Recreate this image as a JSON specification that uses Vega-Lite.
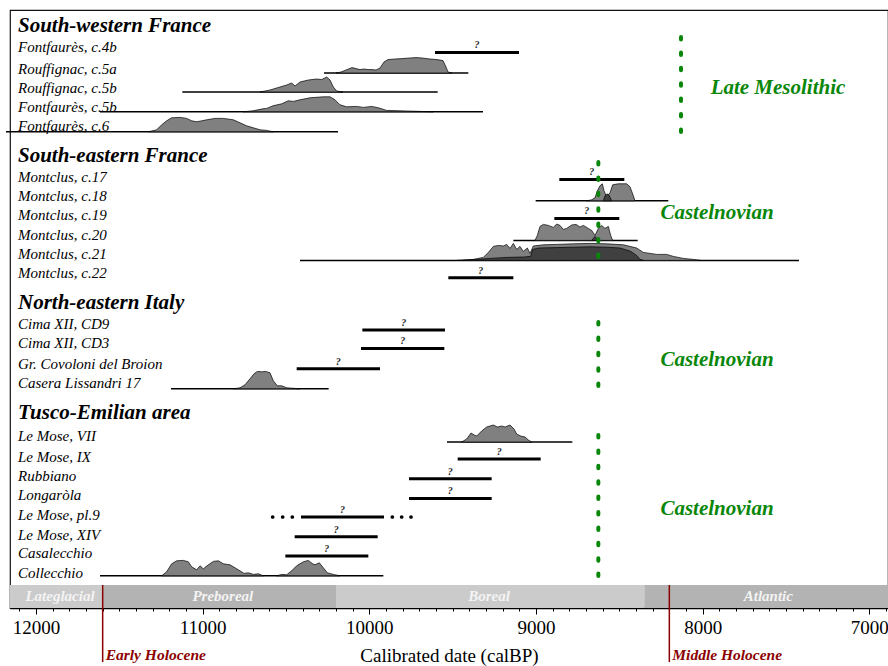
{
"$schema":"https://vega.github.io/schema/vega-lite/v6.json",
"width":878,"height":598,
"autosize":{"type":"none"},
"padding":{"left":10,"top":10,"right":0,"bottom":58},
"background":"white",
"config":{"view":{"stroke":"#111","strokeWidth":1.2},"font":"Liberation Serif"},
"resolve":{"axis":{"x":"independent"}},
"datasets":{
"periods":[{"p":"Lateglacial","x1":12156,"x2":11600,"mid":11856},{"p":"Preboreal","x1":11600,"x2":10200,"mid":10879},{"p":"Boreal","x1":10200,"x2":8350,"mid":9282},{"p":"Atlantic","x1":8350,"x2":6888,"mid":7606}],
"holo":[{"t":"Early Holocene","yr":11600},{"t":"Middle Holocene","yr":8200}],
"intervals":[
{"id":"c4b","row":2.12,"x1":9606,"x2":9102,"mid":9354,"kind":"thick"},
{"id":"c5a","row":3.15,"x1":10272,"x2":9406,"kind":"thin"},
{"id":"r5b","row":4.10,"x1":11122,"x2":9590,"kind":"thin"},
{"id":"f5b","row":5.09,"x1":11616,"x2":9318,"kind":"thin"},
{"id":"c6","row":6.09,"x1":12180,"x2":10188,"kind":"thin"},
{"id":"c17","row":8.47,"x1":8860,"x2":8470,"mid":8665,"kind":"thick"},
{"id":"c18","row":9.54,"x1":9002,"x2":8206,"kind":"thin"},
{"id":"c19","row":10.42,"x1":8890,"x2":8500,"mid":8695,"kind":"thick"},
{"id":"c20","row":11.52,"x1":9136,"x2":8390,"kind":"thin"},
{"id":"c21","row":12.52,"x1":10416,"x2":7422,"kind":"thin"},
{"id":"c22","row":13.39,"x1":9526,"x2":9136,"mid":9331,"kind":"thick"},
{"id":"cd9","row":16.0,"x1":10042,"x2":9546,"mid":9794,"kind":"thick"},
{"id":"cd3","row":16.92,"x1":10050,"x2":9550,"mid":9800,"kind":"thick"},
{"id":"cov","row":17.94,"x1":10436,"x2":9936,"mid":10186,"kind":"thick"},
{"id":"cas","row":18.94,"x1":11190,"x2":10244,"kind":"thin"},
{"id":"vii","row":21.6,"x1":9534,"x2":8782,"kind":"thin"},
{"id":"ix","row":22.45,"x1":9470,"x2":8972,"mid":9221,"kind":"thick"},
{"id":"rub","row":23.44,"x1":9762,"x2":9266,"mid":9514,"kind":"thick"},
{"id":"lon","row":24.42,"x1":9762,"x2":9266,"mid":9514,"kind":"thick"},
{"id":"pl9","row":25.35,"x1":10410,"x2":9912,"mid":10161,"kind":"thick"},
{"id":"xiv","row":26.34,"x1":10448,"x2":9950,"mid":10199,"kind":"thick"},
{"id":"casal","row":27.3,"x1":10504,"x2":10006,"mid":10255,"kind":"thick"},
{"id":"coll","row":28.29,"x1":11616,"x2":9916,"kind":"thin"}
],
"dens":[
{"id":"c5a","s":"l","b":3.15,"yr":10200,"t":3.15},{"id":"c5a","s":"l","b":3.15,"yr":10170,"t":3.10},{"id":"c5a","s":"l","b":3.15,"yr":10140,"t":3.0},{"id":"c5a","s":"l","b":3.15,"yr":10104,"t":2.88},{"id":"c5a","s":"l","b":3.15,"yr":10080,"t":2.93},{"id":"c5a","s":"l","b":3.15,"yr":10056,"t":2.98},{"id":"c5a","s":"l","b":3.15,"yr":10032,"t":2.95},{"id":"c5a","s":"l","b":3.15,"yr":10008,"t":2.98},{"id":"c5a","s":"l","b":3.15,"yr":9984,"t":2.98},{"id":"c5a","s":"l","b":3.15,"yr":9960,"t":3.0},{"id":"c5a","s":"l","b":3.15,"yr":9936,"t":2.9},{"id":"c5a","s":"l","b":3.15,"yr":9912,"t":2.6},{"id":"c5a","s":"l","b":3.15,"yr":9888,"t":2.48},{"id":"c5a","s":"l","b":3.15,"yr":9846,"t":2.45},{"id":"c5a","s":"l","b":3.15,"yr":9804,"t":2.43},{"id":"c5a","s":"l","b":3.15,"yr":9756,"t":2.4},{"id":"c5a","s":"l","b":3.15,"yr":9720,"t":2.38},{"id":"c5a","s":"l","b":3.15,"yr":9684,"t":2.4},{"id":"c5a","s":"l","b":3.15,"yr":9636,"t":2.45},{"id":"c5a","s":"l","b":3.15,"yr":9594,"t":2.48},{"id":"c5a","s":"l","b":3.15,"yr":9558,"t":2.53},{"id":"c5a","s":"l","b":3.15,"yr":9540,"t":2.85},{"id":"c5a","s":"l","b":3.15,"yr":9528,"t":3.10},{"id":"c5a","s":"l","b":3.15,"yr":9504,"t":3.15},
{"id":"r5b","s":"l","b":4.10,"yr":10656,"t":4.10},{"id":"r5b","s":"l","b":4.10,"yr":10596,"t":4.0},{"id":"r5b","s":"l","b":4.10,"yr":10536,"t":3.85},{"id":"r5b","s":"l","b":4.10,"yr":10496,"t":3.75},{"id":"r5b","s":"l","b":4.10,"yr":10466,"t":3.65},{"id":"r5b","s":"l","b":4.10,"yr":10446,"t":3.8},{"id":"r5b","s":"l","b":4.10,"yr":10416,"t":3.6},{"id":"r5b","s":"l","b":4.10,"yr":10366,"t":3.5},{"id":"r5b","s":"l","b":4.10,"yr":10316,"t":3.45},{"id":"r5b","s":"l","b":4.10,"yr":10286,"t":3.48},{"id":"r5b","s":"l","b":4.10,"yr":10256,"t":3.35},{"id":"r5b","s":"l","b":4.10,"yr":10236,"t":3.5},{"id":"r5b","s":"l","b":4.10,"yr":10216,"t":3.85},{"id":"r5b","s":"l","b":4.10,"yr":10196,"t":4.05},{"id":"r5b","s":"l","b":4.10,"yr":10158,"t":4.10},
{"id":"f5b","s":"l","b":5.09,"yr":10756,"t":5.09},{"id":"f5b","s":"l","b":5.09,"yr":10698,"t":5.04},{"id":"f5b","s":"l","b":5.09,"yr":10638,"t":4.94},{"id":"f5b","s":"l","b":5.09,"yr":10616,"t":4.92},{"id":"f5b","s":"l","b":5.09,"yr":10578,"t":4.79},{"id":"f5b","s":"l","b":5.09,"yr":10526,"t":4.69},{"id":"f5b","s":"l","b":5.09,"yr":10486,"t":4.54},{"id":"f5b","s":"l","b":5.09,"yr":10456,"t":4.57},{"id":"f5b","s":"l","b":5.09,"yr":10416,"t":4.49},{"id":"f5b","s":"l","b":5.09,"yr":10356,"t":4.39},{"id":"f5b","s":"l","b":5.09,"yr":10276,"t":4.34},{"id":"f5b","s":"l","b":5.09,"yr":10236,"t":4.34},{"id":"f5b","s":"l","b":5.09,"yr":10206,"t":4.49},{"id":"f5b","s":"l","b":5.09,"yr":10176,"t":4.74},{"id":"f5b","s":"l","b":5.09,"yr":10136,"t":4.84},{"id":"f5b","s":"l","b":5.09,"yr":10076,"t":4.82},{"id":"f5b","s":"l","b":5.09,"yr":10036,"t":4.87},{"id":"f5b","s":"l","b":5.09,"yr":9986,"t":4.82},{"id":"f5b","s":"l","b":5.09,"yr":9946,"t":4.89},{"id":"f5b","s":"l","b":5.09,"yr":9896,"t":5.02},{"id":"f5b","s":"l","b":5.09,"yr":9816,"t":5.04},{"id":"f5b","s":"l","b":5.09,"yr":9696,"t":5.07},{"id":"f5b","s":"l","b":5.09,"yr":9616,"t":5.09},
{"id":"c6","s":"l","b":6.09,"yr":11326,"t":6.09},{"id":"c6","s":"l","b":6.09,"yr":11276,"t":5.99},{"id":"c6","s":"l","b":6.09,"yr":11246,"t":5.74},{"id":"c6","s":"l","b":6.09,"yr":11216,"t":5.54},{"id":"c6","s":"l","b":6.09,"yr":11186,"t":5.39},{"id":"c6","s":"l","b":6.09,"yr":11136,"t":5.37},{"id":"c6","s":"l","b":6.09,"yr":11096,"t":5.42},{"id":"c6","s":"l","b":6.09,"yr":11066,"t":5.54},{"id":"c6","s":"l","b":6.09,"yr":11036,"t":5.59},{"id":"c6","s":"l","b":6.09,"yr":11006,"t":5.54},{"id":"c6","s":"l","b":6.09,"yr":10976,"t":5.49},{"id":"c6","s":"l","b":6.09,"yr":10926,"t":5.42},{"id":"c6","s":"l","b":6.09,"yr":10876,"t":5.42},{"id":"c6","s":"l","b":6.09,"yr":10816,"t":5.49},{"id":"c6","s":"l","b":6.09,"yr":10776,"t":5.64},{"id":"c6","s":"l","b":6.09,"yr":10736,"t":5.79},{"id":"c6","s":"l","b":6.09,"yr":10696,"t":5.89},{"id":"c6","s":"l","b":6.09,"yr":10656,"t":5.99},{"id":"c6","s":"l","b":6.09,"yr":10616,"t":6.02},{"id":"c6","s":"l","b":6.09,"yr":10576,"t":6.09},
{"id":"c18","s":"l","b":9.54,"yr":8696,"t":9.54},{"id":"c18","s":"l","b":9.54,"yr":8666,"t":9.49},{"id":"c18","s":"l","b":9.54,"yr":8646,"t":9.39},{"id":"c18","s":"l","b":9.54,"yr":8632,"t":9.04},{"id":"c18","s":"l","b":9.54,"yr":8616,"t":8.79},{"id":"c18","s":"l","b":9.54,"yr":8602,"t":8.69},{"id":"c18","s":"l","b":9.54,"yr":8592,"t":9.04},{"id":"c18","s":"l","b":9.54,"yr":8576,"t":9.34},{"id":"c18","s":"l","b":9.54,"yr":8556,"t":9.14},{"id":"c18","s":"l","b":9.54,"yr":8540,"t":8.74},{"id":"c18","s":"l","b":9.54,"yr":8506,"t":8.69},{"id":"c18","s":"l","b":9.54,"yr":8456,"t":8.69},{"id":"c18","s":"l","b":9.54,"yr":8436,"t":8.84},{"id":"c18","s":"l","b":9.54,"yr":8416,"t":9.29},{"id":"c18","s":"l","b":9.54,"yr":8406,"t":9.54},
{"id":"c18d","s":"d","b":9.54,"yr":8596,"t":9.54},{"id":"c18d","s":"d","b":9.54,"yr":8586,"t":9.29},{"id":"c18d","s":"d","b":9.54,"yr":8572,"t":9.19},{"id":"c18d","s":"d","b":9.54,"yr":8560,"t":9.29},{"id":"c18d","s":"d","b":9.54,"yr":8546,"t":9.54},
{"id":"c20","s":"l","b":11.52,"yr":9006,"t":11.52},{"id":"c20","s":"l","b":11.52,"yr":8992,"t":11.27},{"id":"c20","s":"l","b":11.52,"yr":8976,"t":10.82},{"id":"c20","s":"l","b":11.52,"yr":8956,"t":10.72},{"id":"c20","s":"l","b":11.52,"yr":8926,"t":10.77},{"id":"c20","s":"l","b":11.52,"yr":8896,"t":10.87},{"id":"c20","s":"l","b":11.52,"yr":8876,"t":10.7},{"id":"c20","s":"l","b":11.52,"yr":8856,"t":10.77},{"id":"c20","s":"l","b":11.52,"yr":8836,"t":10.97},{"id":"c20","s":"l","b":11.52,"yr":8816,"t":10.92},{"id":"c20","s":"l","b":11.52,"yr":8786,"t":10.75},{"id":"c20","s":"l","b":11.52,"yr":8760,"t":10.72},{"id":"c20","s":"l","b":11.52,"yr":8736,"t":10.85},{"id":"c20","s":"l","b":11.52,"yr":8716,"t":10.77},{"id":"c20","s":"l","b":11.52,"yr":8686,"t":10.92},{"id":"c20","s":"l","b":11.52,"yr":8666,"t":11.02},{"id":"c20","s":"l","b":11.52,"yr":8646,"t":11.27},{"id":"c20","s":"l","b":11.52,"yr":8626,"t":10.92},{"id":"c20","s":"l","b":11.52,"yr":8606,"t":10.77},{"id":"c20","s":"l","b":11.52,"yr":8586,"t":10.92},{"id":"c20","s":"l","b":11.52,"yr":8566,"t":10.82},{"id":"c20","s":"l","b":11.52,"yr":8552,"t":11.27},{"id":"c20","s":"l","b":11.52,"yr":8540,"t":11.52},
{"id":"c20d","s":"d","b":11.52,"yr":8666,"t":11.52},{"id":"c20d","s":"d","b":11.52,"yr":8646,"t":11.32},{"id":"c20d","s":"d","b":11.52,"yr":8626,"t":11.52},
{"id":"c21","s":"l","b":12.52,"yr":9436,"t":12.52},{"id":"c21","s":"l","b":12.52,"yr":9376,"t":12.47},{"id":"c21","s":"l","b":12.52,"yr":9316,"t":12.37},{"id":"c21","s":"l","b":12.52,"yr":9286,"t":12.12},{"id":"c21","s":"l","b":12.52,"yr":9256,"t":11.82},{"id":"c21","s":"l","b":12.52,"yr":9226,"t":11.77},{"id":"c21","s":"l","b":12.52,"yr":9196,"t":11.8},{"id":"c21","s":"l","b":12.52,"yr":9176,"t":11.72},{"id":"c21","s":"l","b":12.52,"yr":9156,"t":11.92},{"id":"c21","s":"l","b":12.52,"yr":9136,"t":11.67},{"id":"c21","s":"l","b":12.52,"yr":9116,"t":11.97},{"id":"c21","s":"l","b":12.52,"yr":9096,"t":11.82},{"id":"c21","s":"l","b":12.52,"yr":9076,"t":12.07},{"id":"c21","s":"l","b":12.52,"yr":9052,"t":11.9},{"id":"c21","s":"l","b":12.52,"yr":9036,"t":12.17},{"id":"c21","s":"l","b":12.52,"yr":9016,"t":11.8},{"id":"c21","s":"l","b":12.52,"yr":8956,"t":11.74},{"id":"c21","s":"l","b":12.52,"yr":8876,"t":11.72},{"id":"c21","s":"l","b":12.52,"yr":8776,"t":11.69},{"id":"c21","s":"l","b":12.52,"yr":8676,"t":11.67},{"id":"c21","s":"l","b":12.52,"yr":8576,"t":11.69},{"id":"c21","s":"l","b":12.52,"yr":8476,"t":11.74},{"id":"c21","s":"l","b":12.52,"yr":8396,"t":11.9},{"id":"c21","s":"l","b":12.52,"yr":8356,"t":12.12},{"id":"c21","s":"l","b":12.52,"yr":8316,"t":12.17},{"id":"c21","s":"l","b":12.52,"yr":8276,"t":12.22},{"id":"c21","s":"l","b":12.52,"yr":8216,"t":12.22},{"id":"c21","s":"l","b":12.52,"yr":8176,"t":12.32},{"id":"c21","s":"l","b":12.52,"yr":8116,"t":12.42},{"id":"c21","s":"l","b":12.52,"yr":8056,"t":12.47},{"id":"c21","s":"l","b":12.52,"yr":8016,"t":12.52},
{"id":"c21d","s":"d","b":12.52,"yr":9476,"t":12.52},{"id":"c21d","s":"d","b":12.52,"yr":9356,"t":12.47},{"id":"c21d","s":"d","b":12.52,"yr":9276,"t":12.42},{"id":"c21d","s":"d","b":12.52,"yr":9176,"t":12.37},{"id":"c21d","s":"d","b":12.52,"yr":9076,"t":12.35},{"id":"c21d","s":"d","b":12.52,"yr":9032,"t":12.32},{"id":"c21d","s":"d","b":12.52,"yr":9020,"t":11.97},{"id":"c21d","s":"d","b":12.52,"yr":8986,"t":11.9},{"id":"c21d","s":"d","b":12.52,"yr":8876,"t":11.88},{"id":"c21d","s":"d","b":12.52,"yr":8776,"t":11.86},{"id":"c21d","s":"d","b":12.52,"yr":8676,"t":11.84},{"id":"c21d","s":"d","b":12.52,"yr":8576,"t":11.86},{"id":"c21d","s":"d","b":12.52,"yr":8496,"t":11.9},{"id":"c21d","s":"d","b":12.52,"yr":8436,"t":12.05},{"id":"c21d","s":"d","b":12.52,"yr":8396,"t":12.27},{"id":"c21d","s":"d","b":12.52,"yr":8376,"t":12.47},{"id":"c21d","s":"d","b":12.52,"yr":8356,"t":12.52},
{"id":"cas","s":"l","b":18.94,"yr":10816,"t":18.94},{"id":"cas","s":"l","b":18.94,"yr":10776,"t":18.89},{"id":"cas","s":"l","b":18.94,"yr":10746,"t":18.74},{"id":"cas","s":"l","b":18.94,"yr":10716,"t":18.44},{"id":"cas","s":"l","b":18.94,"yr":10692,"t":18.19},{"id":"cas","s":"l","b":18.94,"yr":10672,"t":18.07},{"id":"cas","s":"l","b":18.94,"yr":10646,"t":18.09},{"id":"cas","s":"l","b":18.94,"yr":10622,"t":18.07},{"id":"cas","s":"l","b":18.94,"yr":10596,"t":18.14},{"id":"cas","s":"l","b":18.94,"yr":10576,"t":18.54},{"id":"cas","s":"l","b":18.94,"yr":10552,"t":18.79},{"id":"cas","s":"l","b":18.94,"yr":10526,"t":18.79},{"id":"cas","s":"l","b":18.94,"yr":10496,"t":18.89},{"id":"cas","s":"l","b":18.94,"yr":10416,"t":18.94},
{"id":"vii","s":"l","b":21.6,"yr":9446,"t":21.6},{"id":"vii","s":"l","b":21.6,"yr":9416,"t":21.45},{"id":"vii","s":"l","b":21.6,"yr":9390,"t":21.15},{"id":"vii","s":"l","b":21.6,"yr":9370,"t":21.25},{"id":"vii","s":"l","b":21.6,"yr":9356,"t":21.3},{"id":"vii","s":"l","b":21.6,"yr":9326,"t":21.05},{"id":"vii","s":"l","b":21.6,"yr":9296,"t":20.85},{"id":"vii","s":"l","b":21.6,"yr":9276,"t":20.8},{"id":"vii","s":"l","b":21.6,"yr":9256,"t":20.75},{"id":"vii","s":"l","b":21.6,"yr":9232,"t":20.85},{"id":"vii","s":"l","b":21.6,"yr":9206,"t":20.8},{"id":"vii","s":"l","b":21.6,"yr":9186,"t":20.85},{"id":"vii","s":"l","b":21.6,"yr":9156,"t":20.75},{"id":"vii","s":"l","b":21.6,"yr":9132,"t":20.95},{"id":"vii","s":"l","b":21.6,"yr":9116,"t":21.2},{"id":"vii","s":"l","b":21.6,"yr":9092,"t":21.3},{"id":"vii","s":"l","b":21.6,"yr":9066,"t":21.35},{"id":"vii","s":"l","b":21.6,"yr":9046,"t":21.5},{"id":"vii","s":"l","b":21.6,"yr":9026,"t":21.6},
{"id":"coll1","s":"l","b":28.29,"yr":11246,"t":28.29},{"id":"coll1","s":"l","b":28.29,"yr":11216,"t":28.09},{"id":"coll1","s":"l","b":28.29,"yr":11186,"t":27.69},{"id":"coll1","s":"l","b":28.29,"yr":11156,"t":27.54},{"id":"coll1","s":"l","b":28.29,"yr":11116,"t":27.52},{"id":"coll1","s":"l","b":28.29,"yr":11086,"t":27.59},{"id":"coll1","s":"l","b":28.29,"yr":11066,"t":27.84},{"id":"coll1","s":"l","b":28.29,"yr":11036,"t":27.99},{"id":"coll1","s":"l","b":28.29,"yr":11016,"t":27.79},{"id":"coll1","s":"l","b":28.29,"yr":10996,"t":27.94},{"id":"coll1","s":"l","b":28.29,"yr":10966,"t":27.74},{"id":"coll1","s":"l","b":28.29,"yr":10936,"t":27.57},{"id":"coll1","s":"l","b":28.29,"yr":10906,"t":27.54},{"id":"coll1","s":"l","b":28.29,"yr":10876,"t":27.69},{"id":"coll1","s":"l","b":28.29,"yr":10836,"t":27.74},{"id":"coll1","s":"l","b":28.29,"yr":10806,"t":27.89},{"id":"coll1","s":"l","b":28.29,"yr":10776,"t":28.04},{"id":"coll1","s":"l","b":28.29,"yr":10752,"t":28.17},{"id":"coll1","s":"l","b":28.29,"yr":10726,"t":28.14},{"id":"coll1","s":"l","b":28.29,"yr":10696,"t":28.22},{"id":"coll1","s":"l","b":28.29,"yr":10666,"t":28.19},{"id":"coll1","s":"l","b":28.29,"yr":10636,"t":28.29},
{"id":"coll2","s":"l","b":28.29,"yr":10556,"t":28.29},{"id":"coll2","s":"l","b":28.29,"yr":10526,"t":28.22},{"id":"coll2","s":"l","b":28.29,"yr":10496,"t":28.24},{"id":"coll2","s":"l","b":28.29,"yr":10466,"t":28.04},{"id":"coll2","s":"l","b":28.29,"yr":10436,"t":27.79},{"id":"coll2","s":"l","b":28.29,"yr":10396,"t":27.59},{"id":"coll2","s":"l","b":28.29,"yr":10366,"t":27.52},{"id":"coll2","s":"l","b":28.29,"yr":10340,"t":27.69},{"id":"coll2","s":"l","b":28.29,"yr":10326,"t":27.74},{"id":"coll2","s":"l","b":28.29,"yr":10300,"t":27.64},{"id":"coll2","s":"l","b":28.29,"yr":10276,"t":27.89},{"id":"coll2","s":"l","b":28.29,"yr":10252,"t":28.14},{"id":"coll2","s":"l","b":28.29,"yr":10216,"t":28.22},{"id":"coll2","s":"l","b":28.29,"yr":10176,"t":28.29}
],
"dots":[{"yr":10580,"row":25.35},{"yr":10520,"row":25.35},{"yr":10462,"row":25.35},{"yr":9862,"row":25.35},{"yr":9806,"row":25.35},{"yr":9750,"row":25.35}],
"sites":[
{"site":"Fontfaurès, c.4b","lrow":1.85},{"site":"Rouffignac, c.5a","lrow":2.95},{"site":"Rouffignac, c.5b","lrow":3.9},{"site":"Fontfaurès, c.5b","lrow":4.85},{"site":"Fontfaurès, c.6","lrow":5.8},
{"site":"Montclus, c.17","lrow":8.35},{"site":"Montclus, c.18","lrow":9.3},{"site":"Montclus, c.19","lrow":10.25},{"site":"Montclus, c.20","lrow":11.25},{"site":"Montclus, c.21","lrow":12.2},{"site":"Montclus, c.22","lrow":13.15},
{"site":"Cima XII, CD9","lrow":15.7},{"site":"Cima XII, CD3","lrow":16.65},{"site":"Gr. Covoloni del Broion","lrow":17.7},{"site":"Casera Lissandri 17","lrow":18.65},
{"site":"Le Mose, VII","lrow":21.3},{"site":"Le Mose, IX","lrow":22.33},{"site":"Rubbiano","lrow":23.3},{"site":"Longaròla","lrow":24.25},{"site":"Le Mose, pl.9","lrow":25.25},{"site":"Le Mose, XIV","lrow":26.25},{"site":"Casalecchio","lrow":27.15},{"site":"Collecchio","lrow":28.13}
],
"headers":[{"t":"South-western France","row":0.82},{"t":"South-eastern France","row":7.28},{"t":"North-eastern Italy","row":14.63},{"t":"Tusco-Emilian area","row":20.13}],
"greenrules":[{"yr":8130,"y1":1.35,"y2":6.25},{"yr":8626,"y1":7.6,"y2":12.4},{"yr":8626,"y1":15.6,"y2":19.0},{"yr":8626,"y1":21.25,"y2":28.5}],
"greentext":[{"t":"Late Mesolithic","yr":7548,"row":3.9},{"t":"Castelnovian","yr":7914,"row":10.15},{"t":"Castelnovian","yr":7914,"row":17.5},{"t":"Castelnovian","yr":7914,"row":24.95}]
},
"layer":[
{"data":{"name":"periods"},"mark":{"type":"rect"},
 "encoding":{
  "x":{"field":"x1","type":"quantitative","scale":{"domain":[6888,12156],"reverse":true,"nice":false,"zero":false},
   "axis":{"values":[6900,7000,7100,7200,7300,7400,7500,7600,7700,7800,7900,8000,8100,8200,8300,8400,8500,8600,8700,8800,8900,9000,9100,9200,9300,9400,9500,9600,9700,9800,9900,10000,10100,10200,10300,10400,10500,10600,10700,10800,10900,11000,11100,11200,11300,11400,11500,11600,11700,11800,11900,12000,12100],
    "orient":"bottom","labels":false,"tickSize":3,"domainColor":"#000","domainWidth":1.5,"tickColor":"#000","tickWidth":1,"grid":false,"title":null}},
  "x2":{"field":"x2"},
  "y":{"datum":28.75,"type":"quantitative","scale":{"domain":[0,29.9],"reverse":true,"nice":false,"zero":false},"axis":null},
  "y2":{"datum":29.9},
  "color":{"field":"p","type":"nominal","scale":{"domain":["Lateglacial","Preboreal","Boreal","Atlantic"],"range":["#cbcbcb","#b3b3b3","#cbcbcb","#b3b3b3"]},"legend":null}
 }},
{"data":{"name":"periods"},"mark":{"type":"text","font":"Liberation Serif","fontStyle":"italic","fontWeight":"bold","fontSize":15,"color":"#f4f4f4","baseline":"middle","align":"center"},
 "encoding":{"x":{"field":"mid","type":"quantitative",
   "axis":{"values":[7000,8000,9000,10000,11000,12000],"orient":"bottom","format":"d","tickSize":6,
    "labelFontSize":19,"labelFont":"Liberation Serif","labelColor":"#000","labelPadding":4,"labelOverlap":false,"labelFlush":false,
    "domain":false,"tickColor":"#000","tickWidth":1,"grid":false,
    "title":"Calibrated date (calBP)","titleFont":"Liberation Serif","titleFontSize":19,"titleFontWeight":"normal","titleColor":"#000","titlePadding":9}},
  "y":{"datum":29.32,"type":"quantitative"},"text":{"field":"p"}}},
{"data":{"name":"holo"},"mark":{"type":"rule","color":"#8b0000","strokeWidth":1.5},
 "encoding":{"x":{"field":"yr","type":"quantitative","axis":null},"y":{"datum":28.75,"type":"quantitative"},"y2":{"datum":32.6}}},
{"data":{"name":"holo"},"mark":{"type":"text","font":"Liberation Serif","fontStyle":"italic","fontWeight":"bold","fontSize":15.5,"color":"#8b0000","baseline":"middle","align":"left","dx":3},
 "encoding":{"x":{"field":"yr","type":"quantitative","axis":null},"y":{"datum":32.25,"type":"quantitative"},"text":{"field":"t"}}},
{"data":{"name":"intervals"},"transform":[{"filter":"datum.kind === 'thin'"}],"mark":{"type":"rule","color":"#000","strokeWidth":1.5},
 "encoding":{"x":{"field":"x1","type":"quantitative","axis":null},"x2":{"field":"x2"},"y":{"field":"row","type":"quantitative"}}},
{"data":{"name":"intervals"},"transform":[{"filter":"datum.kind === 'thick'"}],"mark":{"type":"rule","color":"#000","strokeWidth":3},
 "encoding":{"x":{"field":"x1","type":"quantitative","axis":null},"x2":{"field":"x2"},"y":{"field":"row","type":"quantitative"}}},
{"data":{"name":"dens"},"transform":[{"filter":"datum.s === 'l'"}],"mark":{"type":"area","fill":"#808080","stroke":"#000","strokeWidth":0.7,"opacity":1},
 "encoding":{"x":{"field":"yr","type":"quantitative","axis":null},"y":{"field":"t","type":"quantitative"},"y2":{"field":"b"},"detail":{"field":"id"}}},
{"data":{"name":"dens"},"transform":[{"filter":"datum.s === 'd'"}],"mark":{"type":"area","fill":"#404040","stroke":"#000","strokeWidth":0.7,"opacity":1},
 "encoding":{"x":{"field":"yr","type":"quantitative","axis":null},"y":{"field":"t","type":"quantitative"},"y2":{"field":"b"},"detail":{"field":"id"}}},
{"data":{"name":"intervals"},"transform":[{"filter":"datum.kind === 'thick'"}],"mark":{"type":"text","text":"?","font":"Liberation Serif","fontStyle":"italic","fontWeight":"bold","fontSize":10,"color":"#222","baseline":"middle","dy":-7},
 "encoding":{"x":{"field":"mid","type":"quantitative","axis":null},"y":{"field":"row","type":"quantitative"}}},
{"data":{"name":"dots"},"mark":{"type":"circle","color":"#000","size":14,"opacity":1},
 "encoding":{"x":{"field":"yr","type":"quantitative","axis":null},"y":{"field":"row","type":"quantitative"}}},
{"data":{"name":"sites"},"mark":{"type":"text","font":"Liberation Serif","fontStyle":"italic","fontSize":15,"color":"#000","align":"left","baseline":"middle"},
 "encoding":{"x":{"datum":12108,"type":"quantitative","axis":null},"y":{"field":"lrow","type":"quantitative"},"text":{"field":"site"}}},
{"data":{"name":"headers"},"mark":{"type":"text","font":"Liberation Serif","fontStyle":"italic","fontWeight":"bold","fontSize":21,"color":"#000","align":"left","baseline":"middle"},
 "encoding":{"x":{"datum":12108,"type":"quantitative","axis":null},"y":{"field":"row","type":"quantitative"},"text":{"field":"t"}}},
{"data":{"name":"greenrules"},"mark":{"type":"rule","color":"#0a870a","strokeWidth":4,"strokeDash":[2.5,12.9],"strokeCap":"round"},
 "encoding":{"x":{"field":"yr","type":"quantitative","axis":null},"y":{"field":"y1","type":"quantitative"},"y2":{"field":"y2"}}},
{"data":{"name":"greentext"},"mark":{"type":"text","font":"Liberation Serif","fontStyle":"italic","fontWeight":"bold","fontSize":21,"color":"#0a870a","align":"center","baseline":"middle"},
 "encoding":{"x":{"field":"yr","type":"quantitative","axis":null},"y":{"field":"row","type":"quantitative"},"text":{"field":"t"}}}
]
}
